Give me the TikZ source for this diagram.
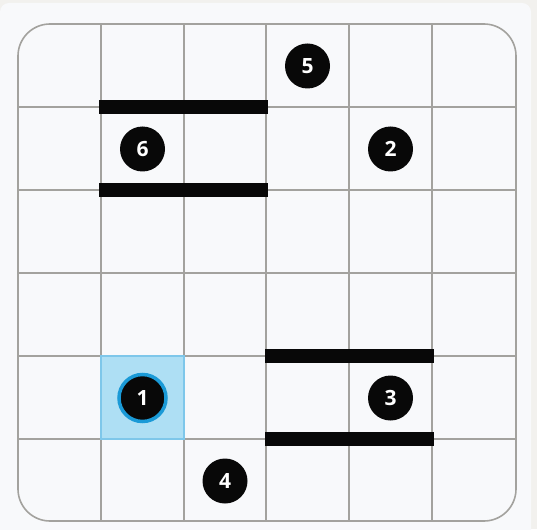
\documentclass[tikz,border=0pt]{standalone}
\usepackage{fontspec}
\setmainfont{Open Sans}
\usetikzlibrary{positioning}
\definecolor{pagegray}{HTML}{F2F1EE}
\definecolor{cardwhite}{HTML}{F8F9FB}
\definecolor{gridgray}{HTML}{A3A29E}
\definecolor{cellblue}{HTML}{AEDFF4}
\definecolor{celledge}{HTML}{7EC7EA}
\definecolor{ringblue}{HTML}{1A9AD7}
\definecolor{inkblack}{HTML}{080808}

\begin{document}
\begin{tikzpicture}[x=1pt, y=-1pt,
  gridline/.style={draw=gridgray, line width=1.6pt},
  wall/.style={draw=inkblack, line width=14pt},
  marker/.style={circle, fill=inkblack, minimum size=45pt, inner sep=0pt,
                 text=white, font=\fontsize{21}{21}\selectfont\bfseries},
  chosen/.style={marker, draw=ringblue, line width=3.5pt, minimum size=47pt}
]
% page and card
\useasboundingbox (0,0) rectangle (537,529);
\clip (0,0) rectangle (537,529);
\fill[pagegray] (0,0) rectangle (537,529);
\fill[cardwhite, rounded corners=9pt] (0,3) rectangle (531,540);

% board
\foreach \x in {101,184,266,349,432}
  \draw[gridline] (\x,24) -- (\x,521);
\foreach \y in {107,190,273,356,439}
  \draw[gridline] (18,\y) -- (516,\y);
\draw[gridline, rounded corners=32pt] (18,24) rectangle (516,521);

% selected cell
\draw[fill=cellblue, draw=celledge, line width=1.5pt] (101,356) rectangle (184,439);

% walls
\draw[wall] (99,107) -- (268,107);
\draw[wall] (99,190) -- (268,190);
\draw[wall] (265,356) -- (434,356);
\draw[wall] (265,439) -- (434,439);

% markers
\node[marker] (n5) at (307.5,66) {5};
\node[marker] (n6) at (142.5,149) {6};
\node[marker] (n2) at (390.5,149) {2};
\node[chosen] (n1) at (142.5,398) {1};
\node[marker] (n3) at (390.5,398) {3};
\node[marker] (n4) at (225,481) {4};
\end{tikzpicture}
\end{document}
